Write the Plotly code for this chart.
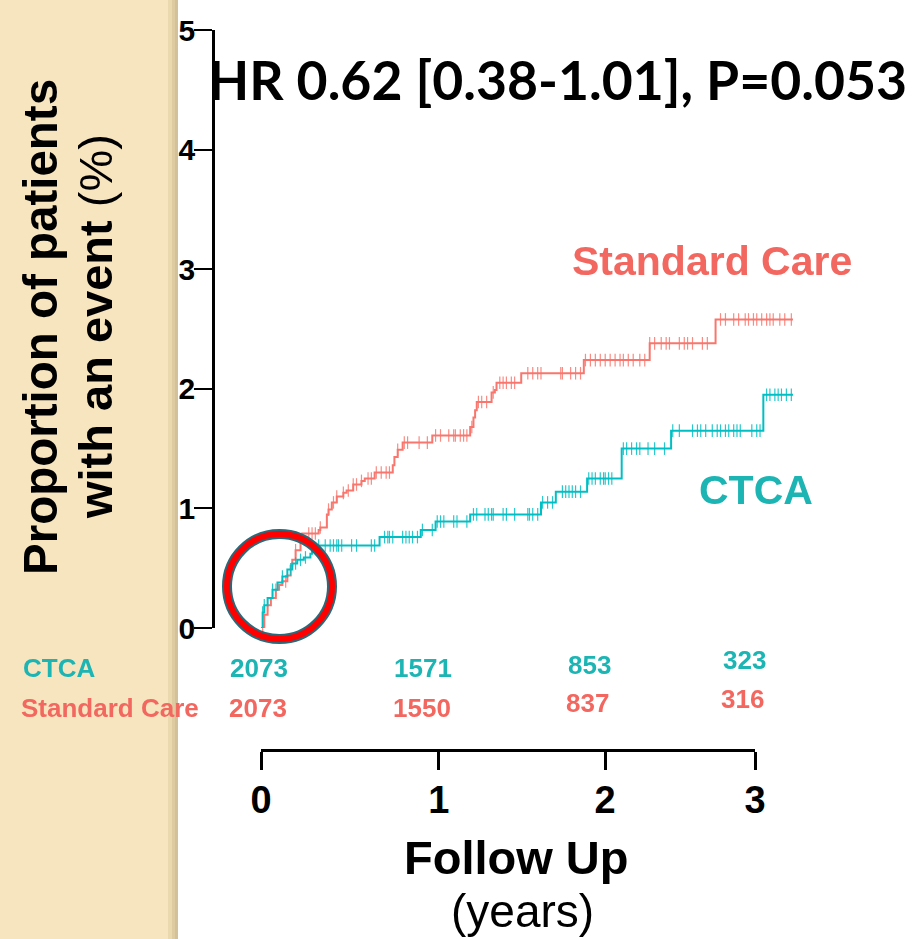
import plotly.graph_objects as go

W, H = 912, 939

# ---------------- data ----------------
ctca_time = [0, 0.01, 0.02, 0.04, 0.07, 0.10, 0.13, 0.16, 0.19, 0.22, 0.26, 0.30, 0.31, 0.33,
             0.72, 0.97, 1.06, 1.27, 1.70, 1.79, 1.98, 2.19, 2.49, 3.05, 3.23]
ctca_pct = [0, 0.13, 0.19, 0.25, 0.32, 0.38, 0.43, 0.49, 0.54, 0.57, 0.59, 0.62, 0.68, 0.69,
            0.76, 0.82, 0.89, 0.95, 1.05, 1.14, 1.25, 1.50, 1.65, 1.95, 1.95]

sc_time = [0, 0.02, 0.04, 0.06, 0.09, 0.11, 0.13, 0.16, 0.18, 0.19, 0.21, 0.24, 0.25, 0.35,
           0.36, 0.40, 0.41, 0.43, 0.46, 0.50, 0.52, 0.56, 0.61, 0.63, 0.69, 0.80, 0.81, 0.83,
           0.86, 1.04, 1.27, 1.29, 1.30, 1.31, 1.40, 1.42, 1.43, 1.58, 1.96, 2.36, 2.76, 3.23]
sc_pct = [0, 0.11, 0.19, 0.25, 0.32, 0.36, 0.39, 0.44, 0.52, 0.57, 0.65, 0.73, 0.79, 0.82,
          0.84, 0.95, 0.99, 1.05, 1.10, 1.13, 1.15, 1.20, 1.23, 1.25, 1.30, 1.36, 1.43, 1.49,
          1.55, 1.61, 1.68, 1.76, 1.82, 1.89, 1.97, 1.99, 2.05, 2.13, 2.24, 2.38, 2.58, 2.58]

ctca_censor = [0.01, 0.02, 0.07, 0.13, 0.18, 0.21, 0.24, 0.27, 0.35, 0.39, 0.42, 0.44, 0.46,
               0.47, 0.49, 0.55, 0.58, 0.67, 0.69, 0.75, 0.77, 0.78, 0.80, 0.86, 0.88, 0.90,
               0.92, 0.95, 0.98, 1.04, 1.07, 1.09, 1.11, 1.17, 1.19, 1.25, 1.29, 1.31, 1.36,
               1.38, 1.40, 1.41, 1.47, 1.49, 1.54, 1.62, 1.63, 1.65, 1.68, 1.71, 1.74, 1.77,
               1.83, 1.85, 1.87, 1.89, 1.91, 1.94, 1.99, 2.01, 2.03, 2.06, 2.08, 2.09, 2.11,
               2.13, 2.20, 2.22, 2.25, 2.28, 2.30, 2.35, 2.39, 2.45, 2.50, 2.54, 2.62, 2.65,
               2.67, 2.70, 2.74, 2.77, 2.79, 2.82, 2.84, 2.87, 2.89, 2.91, 2.98, 3.01, 3.03,
               3.07, 3.09, 3.12, 3.14, 3.16, 3.19, 3.22]

sc_censor = [0.01, 0.04, 0.09, 0.15, 0.21, 0.29, 0.31, 0.33, 0.36, 0.41, 0.44, 0.46, 0.50,
             0.53, 0.56, 0.58, 0.61, 0.65, 0.67, 0.70, 0.73, 0.76, 0.78, 0.83, 0.87, 0.89,
             0.96, 1.01, 1.06, 1.09, 1.14, 1.17, 1.18, 1.21, 1.23, 1.25, 1.28, 1.32, 1.34,
             1.37, 1.41, 1.45, 1.47, 1.49, 1.52, 1.54, 1.62, 1.65, 1.68, 1.70, 1.82, 1.83,
             1.88, 1.91, 1.94, 1.97, 2.00, 2.03, 2.06, 2.09, 2.12, 2.15, 2.18, 2.20, 2.23,
             2.26, 2.30, 2.33, 2.36, 2.39, 2.43, 2.46, 2.48, 2.54, 2.57, 2.59, 2.62, 2.68,
             2.71, 2.79, 2.82, 2.87, 2.90, 2.94, 2.96, 2.99, 3.01, 3.04, 3.07, 3.09, 3.11,
             3.15, 3.18, 3.22]

risk_times = [0, 1, 2, 3]
ctca_at_risk = [2073, 1571, 853, 323]
sc_at_risk = [2073, 1550, 837, 316]

y_ticks = [0, 1, 2, 3, 4, 5]
fu_tick_labels = ["0", "1", "2", "3"]
fu_tick_pos = [0, 1.08, 2.09, 3]

# ---------------- style ----------------
TEAL_LINE = "#00BFC4"
SALMON_LINE = "#F8766D"
TEAL_TXT = "#1DB4B4"
SALMON_TXT = "#F2675F"
ARIAL = "Arial, Liberation Sans, sans-serif"


def px_x(p):
    return p / W


def px_y(p):
    return 1 - p / H


def step_at(times, vals, t):
    v = vals[0]
    for ti, vi in zip(times, vals):
        if ti <= t:
            v = vi
        else:
            break
    return v


fig = go.Figure()

for times, vals, cens, col in [(sc_time, sc_pct, sc_censor, SALMON_LINE),
                               (ctca_time, ctca_pct, ctca_censor, TEAL_LINE)]:
    fig.add_trace(go.Scatter(x=times, y=vals, mode="lines", line=dict(color=col, width=2, shape="hv"),
                             hoverinfo="skip", showlegend=False, cliponaxis=False))
    fig.add_trace(go.Scatter(x=cens, y=[step_at(times, vals, t) for t in cens], mode="markers",
                             marker=dict(symbol="line-ns", size=9, line=dict(width=1.2, color=col)),
                             opacity=0.85, hoverinfo="skip", showlegend=False, cliponaxis=False))

# dummy trace for the follow-up axis
fig.add_trace(go.Scatter(x=[0, 3], y=[None, None], xaxis="x2", yaxis="y", mode="markers",
                         showlegend=False, hoverinfo="skip"))

x0_px, px_per_year = 261, 164.7
fig.update_layout(
    width=W, height=H, autosize=False,
    margin=dict(l=0, r=0, t=0, b=0, pad=0),
    paper_bgcolor="white", plot_bgcolor="rgba(0,0,0,0)",
    xaxis=dict(domain=[px_x(215), px_x(900)],
               range=[(215 - x0_px) / px_per_year, (900 - x0_px) / px_per_year],
               visible=False, automargin=False),
    yaxis=dict(domain=[px_y(628), px_y(30)], range=[0, 5], tickvals=y_ticks, automargin=False,
               showline=True, linecolor="black", linewidth=2.5, ticks="outside",
               ticklen=18, tickwidth=2, tickcolor="black", showgrid=False, zeroline=False,
               ticklabelstandoff=-7,
               tickfont=dict(family=ARIAL, size=30, color="black", weight="bold")),
    xaxis2=dict(domain=[px_x(261), px_x(755)], range=[0, 3], anchor="free", automargin=False,
                position=px_y(750), tickvals=fu_tick_pos, ticktext=fu_tick_labels,
                showline=True, linecolor="black", linewidth=3, ticks="outside",
                ticklen=18, tickwidth=2.5, tickcolor="black", showgrid=False, zeroline=False,
                ticklabelstandoff=-3,
                tickfont=dict(family=ARIAL, size=38, color="black", weight="bold")),
)

shapes = [
    dict(type="rect", xref="paper", yref="paper", x0=0, x1=px_x(178), y0=0, y1=1,
         fillcolor="#F6E5BE", line=dict(width=0), layer="below"),
    dict(type="rect", xref="paper", yref="paper", x0=px_x(168), x1=px_x(172), y0=0, y1=1,
         fillcolor="#EAD8AE", line=dict(width=0), layer="below"),
    dict(type="rect", xref="paper", yref="paper", x0=px_x(172), x1=px_x(175), y0=0, y1=1,
         fillcolor="#DECBA2", line=dict(width=0), layer="below"),
    dict(type="rect", xref="paper", yref="paper", x0=px_x(175), x1=px_x(178), y0=0, y1=1,
         fillcolor="#D3C199", line=dict(width=0), layer="below"),
]
cx, cy, r = 279.5, 586.5, 52.5
for colr, wd in [("#2B6878", 10), ("#FF0000", 6)]:
    shapes.append(dict(type="circle", xref="paper", yref="paper",
                       x0=px_x(cx - r), x1=px_x(cx + r), y0=px_y(cy + r), y1=px_y(cy - r),
                       line=dict(color=colr, width=wd), fillcolor="rgba(0,0,0,0)", layer="above"))
fig.update_layout(shapes=shapes)

ann = []
ann.append(dict(text="<b>Proportion of patients</b>", x=px_x(40), y=px_y(327), textangle=-90,
                font=dict(family=ARIAL, size=47.5, color="black")))
ann.append(dict(text="<b>with an event</b> (%)", x=px_x(95), y=px_y(327), textangle=-90,
                font=dict(family=ARIAL, size=47, color="black")))
ann.append(dict(text="<b>HR 0.62 [0.38-1.01], P=0.053</b>", x=px_x(557), y=px_y(79),
                font=dict(family="Lato, sans-serif", size=53.5, color="black")))
ann.append(dict(text="<b>Standard Care</b>", x=px_x(712), y=px_y(261),
                font=dict(family=ARIAL, size=41, color=SALMON_TXT)))
ann.append(dict(text="<b>CTCA</b>", x=px_x(756), y=px_y(490),
                font=dict(family=ARIAL, size=41, color=TEAL_TXT)))
ann.append(dict(text="<b>CTCA</b>", x=px_x(21), y=px_y(668), xanchor="left",
                font=dict(family=ARIAL, size=26, color=TEAL_TXT)))
ann.append(dict(text="<b>Standard Care</b>", x=px_x(19), y=px_y(708), xanchor="left",
                font=dict(family=ARIAL, size=26, color=SALMON_TXT)))
ctca_xs = [-2, -3, -1, -11]
ctca_ys = [0, 0, 3, 8]
sc_xs = [-3, -4, -3, -13]
sc_ys = [0, 0, 5, 9]
for i, t in enumerate(risk_times):
    ann.append(dict(text=f"<b>{ctca_at_risk[i]}</b>", x=t, xref="x", y=px_y(668), xshift=ctca_xs[i],
                    yshift=ctca_ys[i], font=dict(family=ARIAL, size=26, color=TEAL_TXT)))
    ann.append(dict(text=f"<b>{sc_at_risk[i]}</b>", x=t, xref="x", y=px_y(708), xshift=sc_xs[i],
                    yshift=sc_ys[i], font=dict(family=ARIAL, size=26, color=SALMON_TXT)))
ann.append(dict(text="<b>Follow Up</b>", x=px_x(516), y=px_y(857),
                font=dict(family=ARIAL, size=47, color="black")))
ann.append(dict(text="(years)", x=px_x(522), y=px_y(911),
                font=dict(family=ARIAL, size=46, color="black")))

for a in ann:
    a.setdefault("xref", "paper")
    a["yref"] = "paper"
    a.setdefault("xanchor", "center")
    a["yanchor"] = "middle"
    a["showarrow"] = False
fig.update_layout(annotations=ann)

post = (
    "document.documentElement.style.margin='0';"
    "document.body.style.margin='0';"
    "document.body.style.overflow='hidden';"
)
fig.write_html("out.html", config={"displayModeBar": False}, post_script=post)
